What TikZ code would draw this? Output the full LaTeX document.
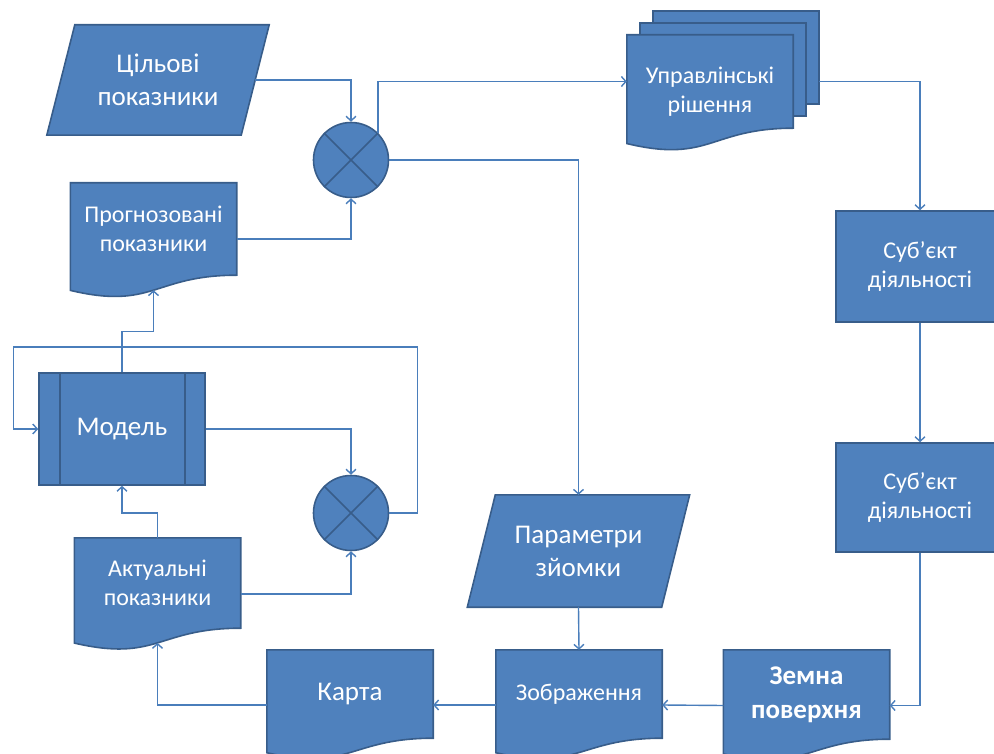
\documentclass[tikz,border=0pt]{standalone}
\usepackage{fontspec}
\setmainfont{Carlito}
\usetikzlibrary{calc,positioning,backgrounds,arrows.meta}
\definecolor{boxblue}{HTML}{4F81BD}
\definecolor{edgeblue}{HTML}{385D8A}
\definecolor{linkblue}{HTML}{4A7EBB}

\tikzset{
  shapefill/.style={fill=boxblue, draw=edgeblue, line width=1.6pt},
  txtbig/.style={text=white, align=center, font=\fontsize{27}{33}\selectfont},
  txtsmall/.style={text=white, align=center, font=\fontsize{24}{29}\selectfont},
  blockbox/.style={shapefill, minimum width=166pt, minimum height=#1, inner sep=0pt},
  docbox/.style={minimum width=166pt, minimum height=#1, inner sep=0pt},
  parabox/.style={minimum width=194pt, minimum height=#1, inner sep=0pt},
  sumnode/.style={circle, shapefill, minimum size=75pt, inner sep=0pt},
  conn/.style={draw=linkblue, line width=1.4pt, -{Straight Barb[length=4.5pt, width=10pt]}},
}

% document sheet with wavy bottom: node, height of its flat part
\newcommand{\docfill}[2]{%
  \filldraw[shapefill] (#1.north west) -- (#1.north east) -- (#1.south east)
    .. controls (#1.south) and ($(#1.south)+(0,0.38*#2)$)
    .. ($(#1.south west)+(0,0.165*#2)$) -- cycle;
  \coordinate (#1-wave) at ($(#1.south)+(0,0.163*#2)$);}
% slanted data block: node, slant
\newcommand{\parafill}[2]{%
  \filldraw[shapefill] ([xshift=#2]#1.north west) -- ([xshift=#2]#1.north east)
    -- ([xshift=-#2]#1.south east) -- ([xshift=-#2]#1.south west) -- cycle;}

\begin{document}
\begin{tikzpicture}[x=1pt, y=-1pt]

% === Wymiary ===
\useasboundingbox (0,0) rectangle (994,754);
\clip (0,0) rectangle (994,754);

% === Показники ===
\node[parabox=110pt, txtbig] (cil) at (158,80) {Цільові\\показники};
\node[docbox=92pt, txtsmall] (prog) at (153.5,229) {Прогнозовані\\показники};
\node[docbox=90pt, txtsmall] (akt) at (157.5,583) {Актуальні\\показники};

% === Суматори ===
\node[sumnode] (sum1) at (351,160) {};
\node[sumnode] (sum2) at (351,513) {};
\draw[edgeblue, line width=1.6pt] (sum1.45) -- (sum1.225) (sum1.135) -- (sum1.315);
\draw[edgeblue, line width=1.6pt] (sum2.45) -- (sum2.225) (sum2.135) -- (sum2.315);

% === Модель ===
\node[blockbox=112pt, txtbig] (mod) at (122,429) {Модель};
\draw[edgeblue, line width=1.6pt]
  ([xshift=22pt]mod.north west) -- ([xshift=22pt]mod.south west)
  ([xshift=-21pt]mod.north east) -- ([xshift=-21pt]mod.south east);

% === Управлінські рішення ===
\node[docbox=93pt] (upr3) at (736,57.5) {};
\node[docbox=93pt] (upr2) at (723,69.5) {};
\node[docbox=93pt] (upr) at (710,81.5) {};
\node[txtsmall] (upr-t) at (710,92) {Управлінські\\рішення};

% === Суб'єкт ===
\node[blockbox=111pt, minimum width=168pt, txtsmall] (sub1) at (920,266.5) {Суб’єкт\\діяльності};
\node[blockbox=109pt, minimum width=168pt, txtsmall] (sub2) at (920,497.5) {Суб’єкт\\діяльності};

% === Нижній ряд ===
\node[parabox=112pt, txtbig] (par) at (578.5,551) {Параметри\\зйомки};
\node[docbox=88pt, txtsmall] (zobr) at (579,694) {Зображення};
\node[docbox=89pt, txtbig, font=\bfseries\fontsize{27}{34}\selectfont] (zem) at (806.5,694.5) {Земна\\поверхня};
\node[docbox=88pt, txtbig] (karta) at (350,694) {Карта};

% === Фігури ===
\begin{scope}[on background layer]
  \parafill{cil}{14pt}
  \parafill{par}{14pt}
  \docfill{prog}{92}
  \filldraw[shapefill] (upr3.north west) rectangle (upr3.south east);
  \filldraw[shapefill] (upr2.north west) rectangle (upr2.south east);
  \docfill{upr}{93}
  \docfill{akt}{90}
  \docfill{zobr}{88}
  \docfill{zem}{89}
  \docfill{karta}{88}
\end{scope}

% === Зв'язки ===
\draw[conn] (cil.east) -| (sum1.north);
\draw[conn] ([yshift=-10pt]prog.east) -| (sum1.south);
\draw[conn] (sum1.45) |- (upr.west);
\draw[conn] (upr3.east |- upr.west) -| (sub1.north);
\draw[conn] (sum1.east) -| (par.north);
\draw[conn] (par.south) -- (zobr.north);
\draw[conn] (sub1.south) -- (sub2.north);
\draw[conn] (sub2.south) |- ([yshift=-11pt]zem.east);
\draw[conn] ([yshift=-11pt]zem.west) -- ([yshift=-11pt]zobr.east);
\draw[conn] ([yshift=-11pt]zobr.west) -- ([yshift=-11pt]karta.east);
\draw[conn] ([yshift=-11pt]karta.west) -| (akt-wave);
\draw[conn] (akt.north) -- ++(0,-25) -| (mod.south);
\draw[conn] ([yshift=-11pt]akt.east) -| (sum2.south);
\draw[conn] (mod.east) -| (sum2.north);
\draw[conn] (sum2.east) -- ++(28,0) -- ++(0,-166) -- ++(-404,0) |- (mod.west);
\draw[conn] (mod.north) -- ++(0,-41) -| (prog-wave);

\end{tikzpicture}
\end{document}
